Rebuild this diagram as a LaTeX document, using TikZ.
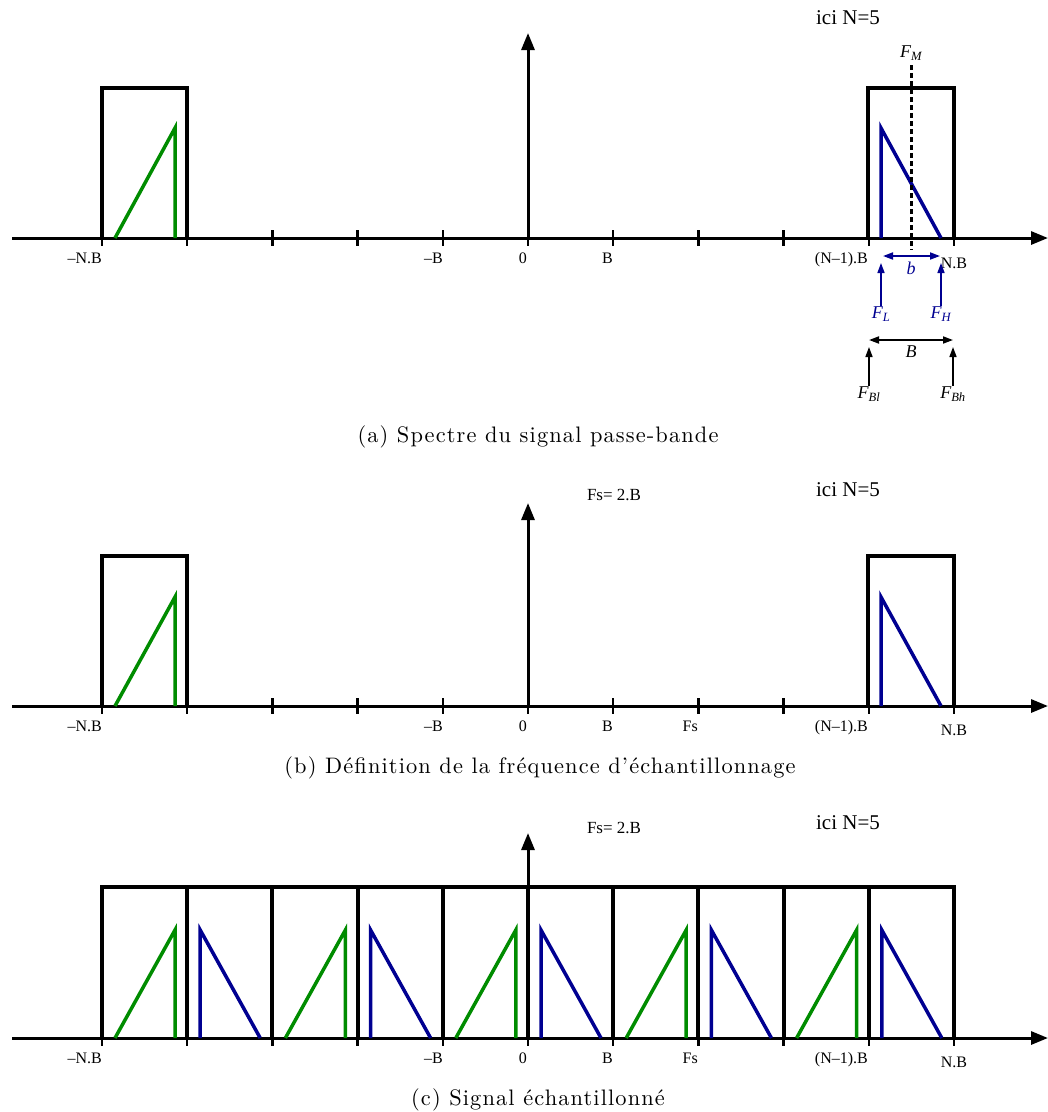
\documentclass[tikz,border=0pt]{standalone}
\usepackage{fontspec}
\setmainfont{Liberation Serif}
\newfontfamily\capfont{lmroman10-regular.otf}[LetterSpace=5]
\usetikzlibrary{arrows.meta}
\definecolor{sgreen}{RGB}{0,140,0}
\definecolor{sblue}{RGB}{0,0,145}

\begin{document}
\begin{tikzpicture}[x=1pt,y=-1pt,
 ax/.style={line width=3pt,-{Triangle[length=17pt,width=13pt]}},
 tk/.style={line width=2.5pt},
 box/.style={line width=4pt,line join=miter},
 up/.style={line width=3.5pt,sgreen,line join=miter},
 dn/.style={line width=3.5pt,sblue,line join=miter},
 tl/.style={anchor=base east,inner sep=0pt,font=\rmfamily\fontsize{16}{18}\selectfont},
 nl/.style={anchor=base,inner sep=0pt,font=\rmfamily\fontsize{16}{18}\selectfont},
 ici/.style={inner sep=0pt,font=\rmfamily\fontsize{21}{24}\selectfont},
 fsl/.style={inner sep=0pt,font=\rmfamily\fontsize{17}{20}\selectfont},
 fn/.style={inner sep=1pt,font=\rmfamily\fontsize{18}{20}\itshape},
 pin/.style={line width=1.5pt,-{Triangle[length=10pt,width=7pt]}},
 dbl/.style={line width=1.8pt,{Triangle[length=10pt,width=7pt]}-{Triangle[length=10pt,width=7pt]}},
 mid/.style={line width=3pt,dash pattern=on 5pt off 3pt},
 captxt/.style={inner sep=0pt,font=\fontsize{22.4}{26}\capfont}]
\useasboundingbox (0,0) rectangle (1048,1112);
% (a) spectre
\begin{scope}[shift={(0,238)}]
\draw[ax] (12,0) -- (1048,0);
\draw[ax] (528,0) -- (528,-205);
\foreach \i in {0,...,10} \draw[tk] ({102+85.2*\i},-8) -- ++(0,16);
\draw[box] (102,0) |- (187,-150) -- (187,0);
\draw[box] (868,0) |- (954,-150) -- (954,0);
\draw[up] (115,0) -- (175,-110) -- (175,0);
\draw[dn] (881,0) -- (881,-110) -- (941,0);
\node[tl] (anb) at (102,25) {–N.B};
\node[tl] (amb) at (443,25) {–B};
\node[tl] (azero) at (527,25) {0};
\node[tl] (ab) at (613,25) {B};
\node[tl] (anm) at (868,25) {(N–1).B};
\node[nl] (anp) at (954,30) {N.B};
\node[ici] (aici) at (848,-220) {ici N=5};
% detail of the band
\node[fn] (fm) at (911,-185) {F\textsubscript{M}};
\coordinate (fmb) at (911,12);
\draw[mid,shorten <=4pt] (fm.south) -- (fmb);
\coordinate (bl) at (883,18);
\coordinate (br) at (940,18);
\draw[dbl,sblue] (bl) -- (br);
\node[fn,text=sblue] (bb) at (911,30) {b};
\node[fn,text=sblue] (fl) at (881,76) {F\textsubscript{L}};
\node[fn,text=sblue] (fh) at (941,76) {F\textsubscript{H}};
\coordinate (flt) at (881,25);
\coordinate (fht) at (941,25);
\draw[pin,sblue] (fl) -- (flt);
\draw[pin,sblue] (fh) -- (fht);
\coordinate (Bl) at (869,102);
\coordinate (Br) at (953,102);
\draw[dbl] (Bl) -- (Br);
\node[fn] (BB) at (911,114) {B};
\node[fn] (fbl) at (869,156) {F\textsubscript{Bl}};
\node[fn] (fbh) at (953,156) {F\textsubscript{Bh}};
\coordinate (fblt) at (869,109);
\coordinate (fbht) at (953,109);
\draw[pin] (fbl) -- (fblt);
\draw[pin] (fbh) -- (fbht);
\end{scope}
\node[captxt] (capa) at (538,437) {(a) Spectre du signal passe-bande};
% (b) frequence d'echantillonnage
\begin{scope}[shift={(0,706)}]
\draw[ax] (12,0) -- (1048,0);
\draw[ax] (528,0) -- (528,-203);
\foreach \i in {0,...,10} \draw[tk] ({102+85.2*\i},-8) -- ++(0,16);
\draw[box] (102,0) |- (187,-150) -- (187,0);
\draw[box] (868,0) |- (954,-150) -- (954,0);
\draw[up] (115,0) -- (175,-109) -- (175,0);
\draw[dn] (881,0) -- (881,-109) -- (941,0);
\node[tl] (bnb) at (102,25) {–N.B};
\node[tl] (bmb) at (443,25) {–B};
\node[tl] (bzero) at (527,25) {0};
\node[tl] (bb) at (613,25) {B};
\node[tl] (bfs) at (698,25) {Fs};
\node[tl] (bnm) at (868,25) {(N–1).B};
\node[nl] (bnp) at (954,29) {N.B};
\node[ici] (bici) at (848,-216) {ici N=5};
\node[fsl] (bfsl) at (614,-211) {Fs= 2.B};
\end{scope}
\node[captxt] (capb) at (540,768) {(b) Définition de la fréquence d’échantillonnage};
% (c) signal echantillonne
\begin{scope}[shift={(0,1038)}]
\draw[ax] (12,0) -- (1048,0);
\draw[ax] (528,0) -- (528,-205);
\foreach \i in {0,...,10} \draw[tk] ({102+85.2*\i},-8) -- ++(0,16);
\draw[box] (102,0) |- (954,-151) -- (954,0);
\foreach \i in {1,...,9} \draw[box] ({102+85.2*\i},0) -- ++(0,-151);
\foreach \k in {0,2,...,8} \draw[up] ({115+85.2*\k},0) -- ++(60,-108) -- ++(0,108);
\foreach \k in {1,3,...,9} \draw[dn] ({115+85.2*\k},0) -- ++(0,-108) -- ++(60,108);
\node[tl] (cnb) at (102,25) {–N.B};
\node[tl] (cmb) at (443,25) {–B};
\node[tl] (czero) at (527,25) {0};
\node[tl] (cb) at (613,25) {B};
\node[tl] (cfs) at (698,25) {Fs};
\node[tl] (cnm) at (868,25) {(N–1).B};
\node[nl] (cnp) at (954,29) {N.B};
\node[ici] (cici) at (848,-215) {ici N=5};
\node[fsl] (cfsl) at (614,-210) {Fs= 2.B};
\end{scope}
\node[captxt] (capc) at (538,1100) {(c) Signal échantillonné};
\end{tikzpicture}
\end{document}
